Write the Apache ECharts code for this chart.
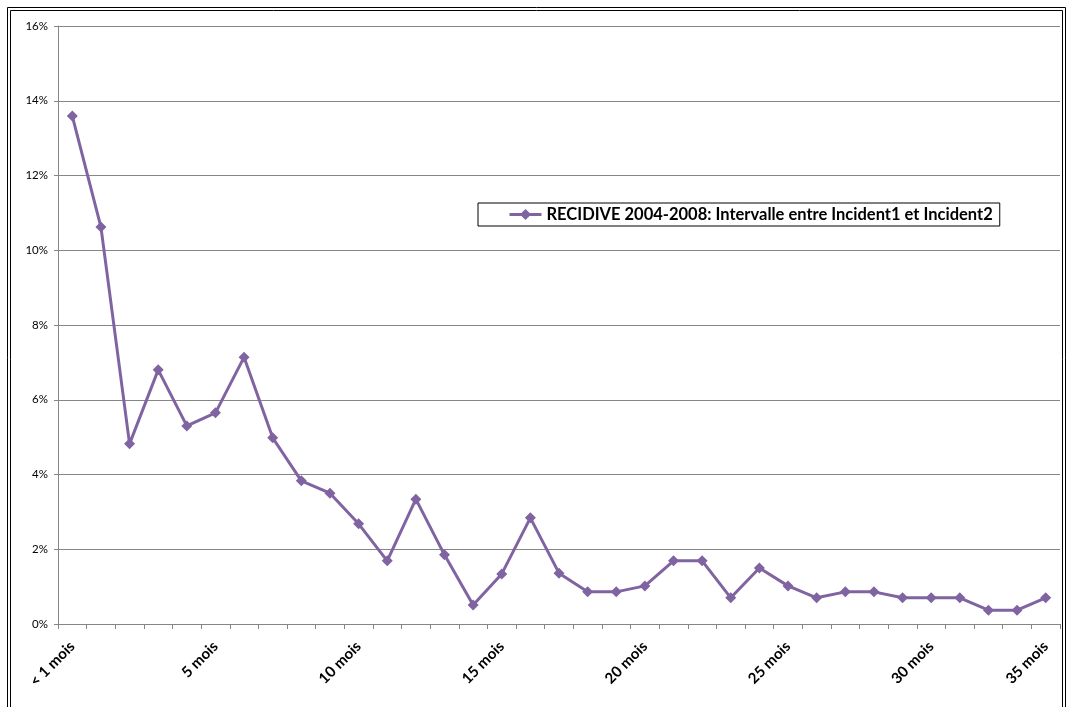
<!DOCTYPE html>
<html>
<head>
<meta charset="utf-8">
<script src="https://cdn.jsdelivr.net/npm/echarts@6/dist/echarts.min.js"></script>
<style>
  html, body { margin: 0; padding: 0; background: #ffffff; }
  #chart { width: 1070px; height: 707px; }
</style>
</head>
<body>
<div id="chart"></div>
<script>
// Month buckets: only every fifth bucket carries a printed label
const categories = [
  '< 1 mois', '', '', '', '', '5 mois', '', '', '', '', '10 mois', '', '', '', '', '15 mois',
  '', '', '', '', '20 mois', '', '', '', '', '25 mois', '', '', '', '', '30 mois',
  '', '', '', '35 mois'
];

// Share of repeat incidents (%) per interval between first and second incident
const recidive = [
  13.59, 10.62, 4.82, 6.80, 5.30, 5.65, 7.14, 4.98, 3.83, 3.50,
  2.68, 1.69, 3.34, 1.85, 0.51, 1.34, 2.84, 1.36, 0.86, 0.86,
  1.02, 1.69, 1.69, 0.70, 1.50, 1.02, 0.70, 0.86, 0.86, 0.70,
  0.70, 0.70, 0.37, 0.37, 0.70
];

const seriesName = 'RECIDIVE 2004-2008: Intervalle entre Incident1 et Incident2';
const yTicks = [0, 2, 4, 6, 8, 10, 12, 14, 16];

const chart = echarts.init(document.getElementById('chart'));
chart.setOption({
  animation: false,
  backgroundColor: '#ffffff',
  graphic: [
    { type: 'rect', shape: { x: 7.5, y: 7.5, width: 1058, height: 720 },
      style: { fill: 'none', stroke: '#000000', lineWidth: 1 } },
    { type: 'rect', shape: { x: 10.5, y: 10.5, width: 1052, height: 720 },
      style: { fill: 'none', stroke: '#000000', lineWidth: 1 } }
  ],
  legend: {
    show: true,
    left: 478,
    top: 203,
    padding: [3, 7, 3, 30],
    borderColor: '#000000',
    borderWidth: 1,
    itemWidth: 32,
    itemHeight: 14,
    itemGap: 4,
    lineStyle: { width: 3 },
    textStyle: { fontFamily: 'Lato', fontWeight: 'bold', fontSize: 16.5, color: '#000000' },
    data: [seriesName]
  },
  grid: { left: 58, right: 10, top: 26, bottom: 83, containLabel: false },
  xAxis: {
    type: 'category',
    data: categories,
    boundaryGap: true,
    axisLine: { show: true, lineStyle: { color: '#868686', width: 1 } },
    axisTick: { show: true, interval: 0, length: 5, lineStyle: { color: '#868686' } },
    axisLabel: {
      interval: 0,
      rotate: 45,
      margin: 20,
      fontFamily: 'Lato',
      fontWeight: 'bold',
      fontSize: 15,
      color: '#000000'
    },
    splitLine: { show: false }
  },
  yAxis: {
    type: 'value',
    min: yTicks[0],
    max: yTicks[yTicks.length - 1],
    interval: 2,
    axisLine: { show: true, lineStyle: { color: '#868686', width: 1 } },
    axisTick: { show: true, length: 4, lineStyle: { color: '#868686' } },
    axisLabel: {
      formatter: v => v + '%',
      margin: 10,
      fontFamily: 'Lato',
      fontSize: 11.5,
      color: '#000000'
    },
    splitLine: { show: true, lineStyle: { color: '#868686', width: 1 } }
  },
  series: [{
    name: seriesName,
    type: 'line',
    data: recidive,
    symbol: 'diamond',
    symbolSize: 11,
    itemStyle: { color: '#8064A2' },
    lineStyle: { color: '#8064A2', width: 3 }
  }]
});
</script>
</body>
</html>
